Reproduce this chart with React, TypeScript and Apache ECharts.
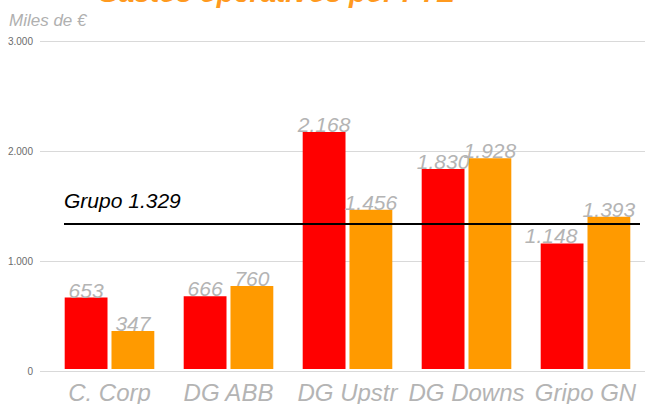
import React, { useEffect, useRef } from 'react';
import * as echarts from 'echarts';

const titleText = 'Gastos operativos por FTE';
const unitText = 'Miles de €';
const categories = ['C. Corp', 'DG ABB', 'DG Upstr', 'DG Downs', 'Gripo GN'];
const redValues = [653, 666, 2168, 1830, 1148];
const orangeValues = [347, 760, 1456, 1928, 1393];
const groupValue = 1329;
const yMin = 0;
const yMax = 3000;
const yInterval = 1000;

const fmt = (n: number) => String(Math.round(n)).replace(/\B(?=(\d{3})+(?!\d))/g, '.');

const FONT = '"Liberation Sans", Arial, sans-serif';
const LABEL_GRAY = '#b4b4b4';

export default function App() {
  const ref = useRef<HTMLDivElement>(null);
  useEffect(() => {
    if (!ref.current) return;
    const chart = echarts.init(ref.current, null, { renderer: 'svg' });
    const dataLabel = {
      show: true,
      position: 'top',
      distance: -3,
      fontFamily: FONT,
      fontSize: 21,
      fontStyle: 'italic',
      color: LABEL_GRAY,
      formatter: (p: any) => fmt(p.value),
    };
    chart.setOption({
      animation: false,
      backgroundColor: '#ffffff',
      title: {
        text: titleText,
        left: 92,
        top: -27,
        textStyle: {
          fontFamily: FONT,
          fontSize: 28,
          fontWeight: 'bold',
          fontStyle: 'italic',
          color: '#ff9a1f',
        },
      },
      graphic: [
        {
          type: 'text',
          left: 9,
          top: 12,
          style: {
            text: unitText,
            fontFamily: FONT,
            fontSize: 17,
            fontStyle: 'italic',
            fill: '#b0b0b0',
          },
        },
      ],
      grid: [
        { left: 50, right: -3, top: 41, bottom: 33, containLabel: false },
        { left: 40, right: 0, top: 41, bottom: 33, containLabel: false },
      ],
      xAxis: [
        {
          type: 'category',
          gridIndex: 0,
          data: categories,
          axisTick: { show: false },
          axisLine: { show: false },
          axisLabel: {
            margin: 11,
            fontFamily: FONT,
            fontSize: 24,
            fontStyle: 'italic',
            color: LABEL_GRAY,
            interval: 0,
          },
        },
        {
          type: 'value',
          gridIndex: 1,
          show: false,
          min: 0,
          max: 1,
        },
      ],
      yAxis: [
        {
          type: 'value',
          gridIndex: 0,
          min: yMin,
          max: yMax,
          interval: yInterval,
          show: false,
          splitLine: { show: false },
        },
        {
          type: 'value',
          gridIndex: 1,
          min: yMin,
          max: yMax,
          interval: yInterval,
          axisLine: { show: false },
          axisTick: { show: false },
          splitLine: { lineStyle: { color: '#d9d9d9', width: 1 } },
          axisLabel: {
            margin: 7,
            fontFamily: FONT,
            fontSize: 10,
            color: '#6b6b6b',
            formatter: (v: number) => fmt(v),
          },
        },
      ],
      series: [
        {
          type: 'bar',
          name: 'red',
          xAxisIndex: 0,
          yAxisIndex: 0,
          data: redValues.map((v, i) =>
            i === 4 ? { value: v, label: { offset: [-11, 0] } } : v
          ),
          itemStyle: { color: '#ff0000' },
          barGap: '9.3%',
          barCategoryGap: '24.7%',
          label: dataLabel,
          markLine: {
            silent: true,
            symbol: 'none',
            lineStyle: { color: '#000000', width: 2, type: 'solid' },
            label: {
              show: true,
              position: 'insideStartTop',
              distance: [0, 13],
              formatter: `Grupo ${fmt(groupValue)}`,
              fontFamily: FONT,
              fontSize: 21,
              fontStyle: 'italic',
              color: '#000000',
            },
            data: [[{ yAxis: groupValue, x: 64 }, { yAxis: groupValue, x: 640 }]],
          },
        },
        {
          type: 'bar',
          name: 'orange',
          xAxisIndex: 0,
          yAxisIndex: 0,
          data: orangeValues,
          itemStyle: { color: '#ff9a00' },
          barGap: '9.3%',
          barCategoryGap: '24.7%',
          label: dataLabel,
        },
      ],
    });
    return () => chart.dispose();
  }, []);
  return (
    <div
      ref={ref}
      style={{ position: 'fixed', left: 0, top: 0, width: 645, height: 404 }}
    />
  );
}
